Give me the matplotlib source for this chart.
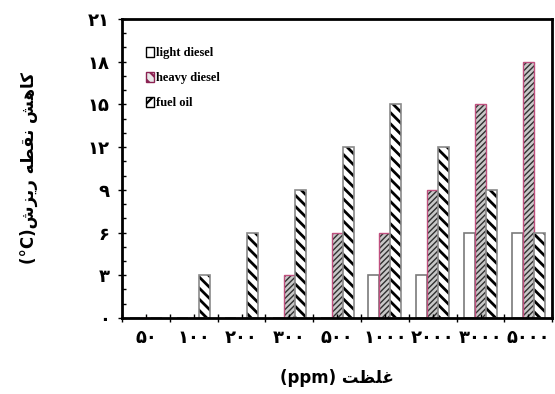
import numpy as np
import matplotlib
matplotlib.use("Agg")
import matplotlib.pyplot as plt
from matplotlib.patches import Patch
from matplotlib.ticker import FixedLocator, MultipleLocator

categories = ["۵۰", "۱۰۰", "۲۰۰", "۳۰۰", "۵۰۰", "۱۰۰۰", "۲۰۰۰", "۳۰۰۰", "۵۰۰۰"]
light_diesel = [0, 0, 0, 0, 0, 3, 3, 6, 6]
heavy_diesel = [0, 0, 0, 3, 6, 6, 9, 15, 18]
fuel_oil = [0, 3, 6, 9, 12, 15, 12, 9, 6]
y_ticks = [0, 3, 6, 9, 12, 15, 18, 21]
y_tick_labels = ["۰", "۳", "۶", "۹", "۱۲", "۱۵", "۱۸", "۲۱"]

# arabic text written in visual order with presentation forms (no shaping in matplotlib)
y_title = "(°C)" + "\uFEB5\uFEB0\uFBFE\uFEAD" + " " + "\uFEEA\uFEC4\uFED8\uFEE7" + " " + "\uFEB6\uFEEB\uFE8E\uFB90"
x_title = "(ppm) " + "\uFE96\uFEC8\uFEE0\uFECF"

fig = plt.figure(figsize=(5.55, 3.94), dpi=100)
ax = fig.add_axes([0.22, 0.193, 0.775, 0.759])

x = np.arange(len(categories))
w = 0.23

# light diesel: plain white bars
ax.bar(x - w, light_diesel, w, color="white", edgecolor="#7a7a7a", linewidth=1.2)

# heavy diesel: dense dark hatch, then pink outline on top
plt.rcParams['hatch.linewidth'] = 1.0
ax.bar(x, heavy_diesel, w, color="#c8c8c8", edgecolor="#303030", linewidth=0, hatch="//////")
ax.bar(x, heavy_diesel, w, fill=False, edgecolor="#c0507f", linewidth=1.0)

# fuel oil: thick black back-diagonal stripes, grey outline
plt.rcParams['hatch.linewidth'] = 2.0
ax.bar(x + w, fuel_oil, w, color="white", edgecolor="black", linewidth=0, hatch="\\\\\\")
ax.bar(x + w, fuel_oil, w, fill=False, edgecolor="#8a8a8a", linewidth=1.2)

ax.set_xlim(-0.5, len(categories) - 0.5)
ax.set_ylim(0, 21)

ax.xaxis.set_major_locator(FixedLocator(np.arange(len(categories) + 1) - 0.5))
ax.set_xticklabels([""] * (len(categories) + 1))
ax.set_xticks(x, categories, minor=True)
ax.tick_params(axis="x", which="major", direction="inout", length=6, width=1)
ax.tick_params(axis="x", which="minor", direction="in", length=3, width=1, pad=8)

ax.set_yticks(y_ticks, y_tick_labels)
ax.yaxis.set_minor_locator(MultipleLocator(1))
ax.tick_params(axis="y", which="major", direction="inout", length=6, width=1, pad=6)
ax.tick_params(axis="y", which="minor", direction="in", length=3, width=1)

for lab in ax.get_xticklabels(minor=True) + ax.get_yticklabels():
    lab.set_fontfamily(["DejaVu Sans"])
    lab.set_fontweight("bold")
    lab.set_fontsize(13)

for s in ax.spines.values():
    s.set_linewidth(2)

ax.set_ylabel(y_title, fontsize=12, fontweight="bold", family=["DejaVu Sans"], labelpad=36)
ax.set_xlabel(x_title, fontsize=12, fontweight="bold", family=["DejaVu Sans"], labelpad=16)

plt.rcParams['hatch.linewidth'] = 1.6
handles = [
    Patch(facecolor="white", edgecolor="black", linewidth=1),
    Patch(facecolor="#e8e8e8", edgecolor="#8b2252", hatch="\\\\\\", linewidth=1),
    Patch(facecolor="white", edgecolor="black", hatch="//", linewidth=1),
]
labels = ["light diesel", "heavy diesel", "fuel oil"]
ax.legend(handles, labels, loc="upper left", bbox_to_anchor=(0.03, 0.945), frameon=False,
          handlelength=0.6, handleheight=0.9, handletextpad=0.2,
          labelspacing=1.0, prop={"family": ["Liberation Serif"], "weight": "bold", "size": 9})

fig.savefig("out.png", dpi=100)
